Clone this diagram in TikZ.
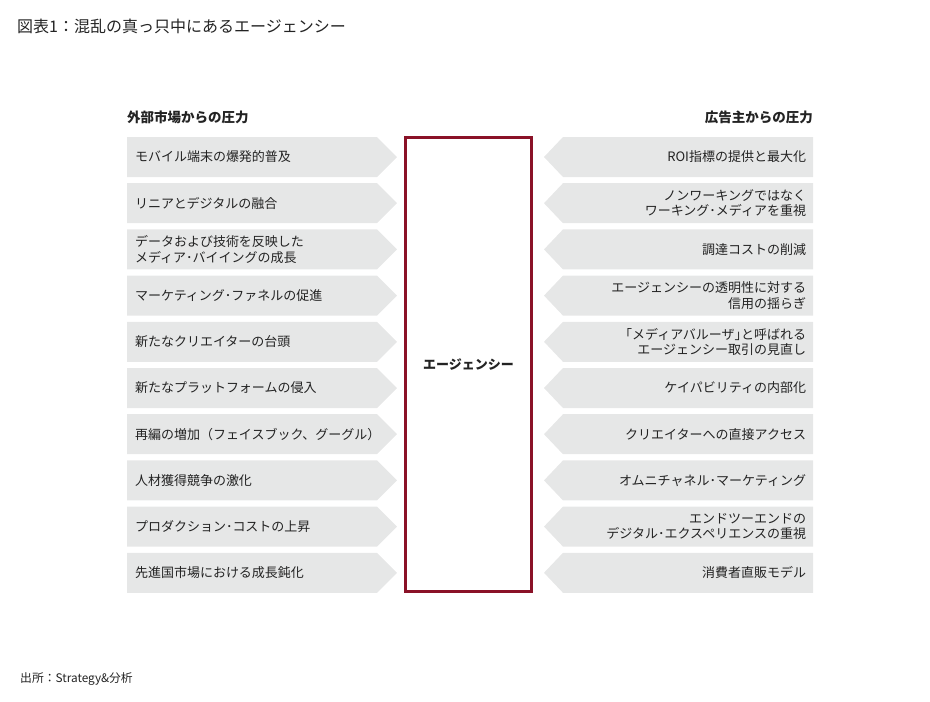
\documentclass[tikz,border=0pt]{standalone}
\usepackage{fontspec}
\setmainfont{Noto Sans CJK JP}
\usetikzlibrary{backgrounds}
\definecolor{boxgray}{RGB}{230,231,231}
\definecolor{agred}{RGB}{138,18,40}
\definecolor{txt}{RGB}{35,35,35}
\begin{document}
\begin{tikzpicture}[x=1pt,y=-1pt,
  every node/.style={text=txt},
  lbox/.style={anchor=north west,text width=234pt,minimum height=40pt,outer sep=0pt,
    inner xsep=8pt,inner ysep=0pt,align=left,font=\fontsize{13}{15.5}\selectfont},
  rbox/.style={anchor=north east,text width=236pt,minimum height=40pt,outer sep=0pt,
    inner xsep=7pt,inner ysep=0pt,align=right,font=\fontsize{13}{15.5}\selectfont},
  heading/.style={font=\fontsize{13.5}{16}\selectfont\bfseries,inner sep=0pt},
  agency/.style={draw=agred,line width=3pt,fill=white,outer sep=0pt,inner sep=0pt}]
\useasboundingbox (0,0) rectangle (930,702);
\node[anchor=west,inner sep=0pt,font=\fontsize{16}{18}\selectfont] (title) at (17,26) {図表1：混乱の真っ只中にあるエージェンシー};
\node[heading,anchor=west] (hl) at (127,117) {外部市場からの圧力};
\node[heading,anchor=east] (hr) at (813,117) {広告主からの圧力};
\node[agency,minimum width=126pt,minimum height=454pt,anchor=north west] (ag) at (405.5,137.5) {};
\node[font=\fontsize{13}{15.5}\selectfont\bfseries] (agt) at (ag.center) {エージェンシー};
\foreach \i/\t in {0/{モバイル端末の爆発的普及},
  1/{リニアとデジタルの融合},
  2/{データおよび技術を反映した\\メディア･バイイングの成長},
  3/{マーケティング･ファネルの促進},
  4/{新たなクリエイターの台頭},
  5/{新たなプラットフォームの侵入},
  6/{再編の増加（フェイスブック、グーグル）},
  7/{人材獲得競争の激化},
  8/{プロダクション･コストの上昇},
  9/{先進国市場における成長鈍化}}{
  \node[lbox] (L\i) at (127,137+46.2*\i) {\t};
  \begin{scope}[on background layer]
  \fill[boxgray] (L\i.north west) -- (L\i.north east) -- ([xshift=20pt]L\i.east) -- (L\i.south east) -- (L\i.south west) -- cycle;
  \end{scope}
}
\foreach \i/\t in {0/{ROI指標の提供と最大化},
  1/{ノンワーキングではなく\\ワーキング･メディアを重視},
  2/{調達コストの削減},
  3/{エージェンシーの透明性に対する\\信用の揺らぎ},
  4/{｢メディアバルーザ｣と呼ばれる\\エージェンシー取引の見直し},
  5/{ケイパビリティの内部化},
  6/{クリエイターへの直接アクセス},
  7/{オムニチャネル･マーケティング},
  8/{エンドツーエンドの\\デジタル･エクスペリエンスの重視},
  9/{消費者直販モデル}}{
  \node[rbox] (R\i) at (813,137+46.2*\i) {\t};
  \begin{scope}[on background layer]
  \fill[boxgray] (R\i.north east) -- (R\i.north west) -- ([xshift=-19pt]R\i.west) -- (R\i.south west) -- (R\i.south east) -- cycle;
  \end{scope}
}
\node[anchor=west,inner sep=0pt,font=\fontsize{11.8}{14}\selectfont] (src) at (20,679) {出所：Strategy\&分析};
\end{tikzpicture}
\end{document}
